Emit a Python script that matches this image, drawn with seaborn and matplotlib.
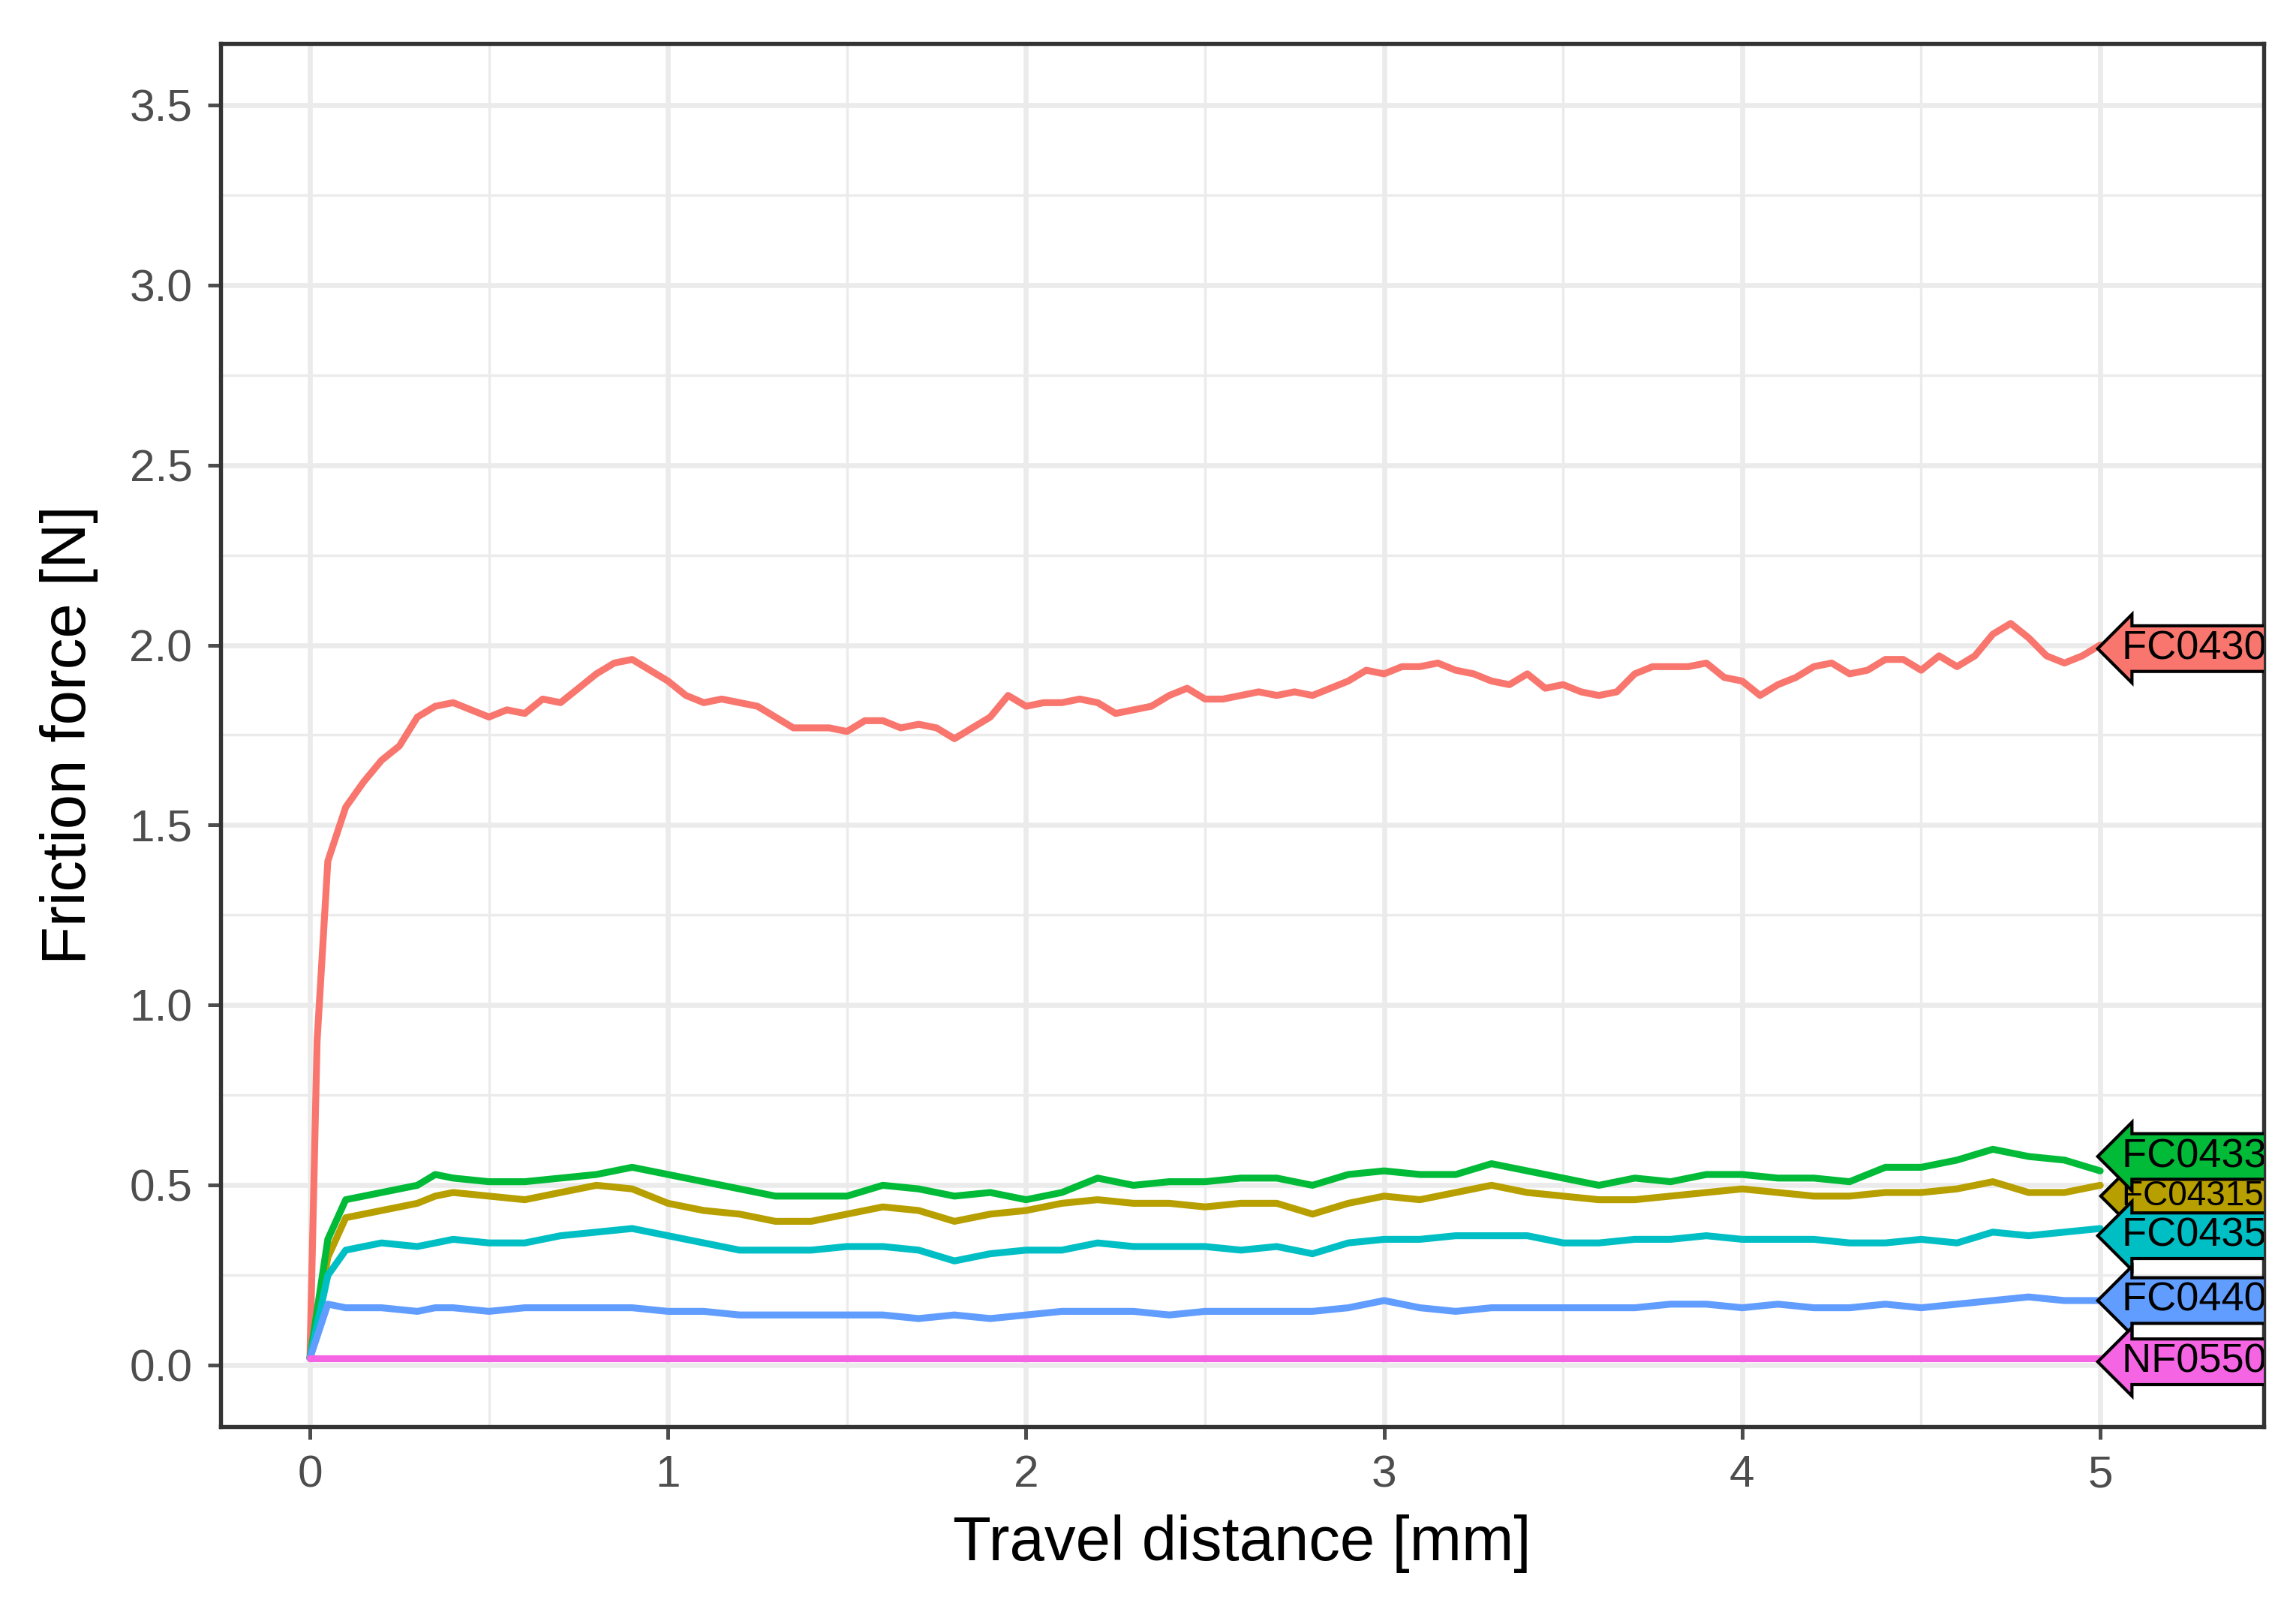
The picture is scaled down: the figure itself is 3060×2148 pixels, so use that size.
import numpy as np
import pandas as pd
import matplotlib
matplotlib.use("Agg")
import matplotlib.pyplot as plt
import seaborn as sns

samples = ["FC0430", "FC04315", "FC0433", "FC0435", "FC0440", "NF0550"]
colors = ["#F8766D", "#B79F00", "#00BA38", "#00BFC4", "#619CFF", "#F564E3"]

x_red = [0, 0.02, 0.05, 0.1, 0.15, 0.2, 0.25, 0.3, 0.35, 0.4, 0.45, 0.5, 0.55, 0.6, 0.65, 0.7, 0.75, 0.8, 0.85, 0.9,
         0.95, 1.0, 1.05, 1.1, 1.15, 1.2, 1.25, 1.3, 1.35, 1.4, 1.45, 1.5, 1.55, 1.6, 1.65, 1.7, 1.75, 1.8, 1.85, 1.9,
         1.95, 2.0, 2.05, 2.1, 2.15, 2.2, 2.25, 2.3, 2.35, 2.4, 2.45, 2.5, 2.55, 2.6, 2.65, 2.7, 2.75, 2.8, 2.85, 2.9,
         2.95, 3.0, 3.05, 3.1, 3.15, 3.2, 3.25, 3.3, 3.35, 3.4, 3.45, 3.5, 3.55, 3.6, 3.65, 3.7, 3.75, 3.8, 3.85, 3.9,
         3.95, 4.0, 4.05, 4.1, 4.15, 4.2, 4.25, 4.3, 4.35, 4.4, 4.45, 4.5, 4.55, 4.6, 4.65, 4.7, 4.75, 4.8, 4.85, 4.9,
         4.95, 5.0]
y_fc0430 = [0.02, 0.9, 1.4, 1.55, 1.62, 1.68, 1.72, 1.8, 1.83, 1.84, 1.82, 1.80, 1.82, 1.81, 1.85, 1.84, 1.88, 1.92, 1.95, 1.96,
            1.93, 1.90, 1.86, 1.84, 1.85, 1.84, 1.83, 1.80, 1.77, 1.77, 1.77, 1.76, 1.79, 1.79, 1.77, 1.78, 1.77, 1.74, 1.77, 1.80,
            1.86, 1.83, 1.84, 1.84, 1.85, 1.84, 1.81, 1.82, 1.83, 1.86, 1.88, 1.85, 1.85, 1.86, 1.87, 1.86, 1.87, 1.86, 1.88, 1.90,
            1.93, 1.92, 1.94, 1.94, 1.95, 1.93, 1.92, 1.90, 1.89, 1.92, 1.88, 1.89, 1.87, 1.86, 1.87, 1.92, 1.94, 1.94, 1.94, 1.95,
            1.91, 1.90, 1.86, 1.89, 1.91, 1.94, 1.95, 1.92, 1.93, 1.96, 1.96, 1.93, 1.97, 1.94, 1.97, 2.03, 2.06, 2.02, 1.97, 1.95,
            1.97, 2.0]

x_low = [0, 0.05, 0.1, 0.2, 0.3, 0.35, 0.4, 0.5, 0.6, 0.7, 0.8, 0.9, 1.0, 1.1, 1.2, 1.3, 1.4, 1.5, 1.6, 1.7, 1.8, 1.9,
         2.0, 2.1, 2.2, 2.3, 2.4, 2.5, 2.6, 2.7, 2.8, 2.9, 3.0, 3.1, 3.2, 3.3, 3.4, 3.5, 3.6, 3.7, 3.8, 3.9,
         4.0, 4.1, 4.2, 4.3, 4.4, 4.5, 4.6, 4.7, 4.8, 4.9, 5.0]
y_fc0433 = [0.02, 0.35, 0.46, 0.48, 0.50, 0.53, 0.52, 0.51, 0.51, 0.52, 0.53, 0.55, 0.53, 0.51, 0.49, 0.47, 0.47, 0.47, 0.50, 0.49, 0.47, 0.48,
            0.46, 0.48, 0.52, 0.50, 0.51, 0.51, 0.52, 0.52, 0.50, 0.53, 0.54, 0.53, 0.53, 0.56, 0.54, 0.52, 0.50, 0.52, 0.51, 0.53,
            0.53, 0.52, 0.52, 0.51, 0.55, 0.55, 0.57, 0.60, 0.58, 0.57, 0.54]
y_fc04315 = [0.02, 0.30, 0.41, 0.43, 0.45, 0.47, 0.48, 0.47, 0.46, 0.48, 0.50, 0.49, 0.45, 0.43, 0.42, 0.40, 0.40, 0.42, 0.44, 0.43, 0.40, 0.42,
             0.43, 0.45, 0.46, 0.45, 0.45, 0.44, 0.45, 0.45, 0.42, 0.45, 0.47, 0.46, 0.48, 0.50, 0.48, 0.47, 0.46, 0.46, 0.47, 0.48,
             0.49, 0.48, 0.47, 0.47, 0.48, 0.48, 0.49, 0.51, 0.48, 0.48, 0.50]
y_fc0435 = [0.02, 0.25, 0.32, 0.34, 0.33, 0.34, 0.35, 0.34, 0.34, 0.36, 0.37, 0.38, 0.36, 0.34, 0.32, 0.32, 0.32, 0.33, 0.33, 0.32, 0.29, 0.31,
            0.32, 0.32, 0.34, 0.33, 0.33, 0.33, 0.32, 0.33, 0.31, 0.34, 0.35, 0.35, 0.36, 0.36, 0.36, 0.34, 0.34, 0.35, 0.35, 0.36,
            0.35, 0.35, 0.35, 0.34, 0.34, 0.35, 0.34, 0.37, 0.36, 0.37, 0.38]
y_fc0440 = [0.02, 0.17, 0.16, 0.16, 0.15, 0.16, 0.16, 0.15, 0.16, 0.16, 0.16, 0.16, 0.15, 0.15, 0.14, 0.14, 0.14, 0.14, 0.14, 0.13, 0.14, 0.13,
            0.14, 0.15, 0.15, 0.15, 0.14, 0.15, 0.15, 0.15, 0.15, 0.16, 0.18, 0.16, 0.15, 0.16, 0.16, 0.16, 0.16, 0.16, 0.17, 0.17,
            0.16, 0.17, 0.16, 0.16, 0.17, 0.16, 0.17, 0.18, 0.19, 0.18, 0.18]
y_nf0550 = [0.02] * len(x_low)
label_y = [1.99, 0.47, 0.58, 0.36, 0.18, 0.01]

frames = [pd.DataFrame({"x": x_red, "y": y_fc0430, "sample": "FC0430"})]
for name, ys in zip(samples[1:], [y_fc04315, y_fc0433, y_fc0435, y_fc0440, y_nf0550]):
    frames.append(pd.DataFrame({"x": x_low, "y": ys, "sample": name}))
df = pd.concat(frames, ignore_index=True)

sns.set_theme(style="whitegrid")
plt.rcParams['font.family'] = ['Liberation Sans', 'DejaVu Sans']
fig, ax = plt.subplots(figsize=(10.2, 7.16), dpi=300)
fig.subplots_adjust(left=0.096, right=0.986, top=0.973, bottom=0.115)

sns.lineplot(data=df, x="x", y="y", hue="sample", hue_order=samples,
             palette=colors, linewidth=2.2, ax=ax, legend=False, estimator=None)

for name, c, ly in zip(samples, colors, label_y):
    fs = 11 if name == "FC04315" else 13
    ax.text(5.06, ly, name + "  ", fontsize=fs, color="black", va="center", ha="left",
            bbox=dict(boxstyle="larrow,pad=0.1", fc=c, ec="black", lw=1.0), clip_on=True)

ax.set_xlim(-0.25, 5.457)
ax.set_ylim(-0.17, 3.67)
ax.set_xticks([0, 1, 2, 3, 4, 5])
ax.set_yticks(np.arange(0, 3.51, 0.5))
ax.set_yticklabels([f"{v:.1f}" for v in np.arange(0, 3.51, 0.5)])
ax.set_xticks(np.arange(0.5, 5.5, 1), minor=True)
ax.set_yticks(np.arange(0.25, 3.6, 0.5), minor=True)
ax.grid(which="major", color="#EBEBEB", lw=1.6)
ax.grid(which="minor", color="#EBEBEB", lw=0.8)
ax.tick_params(axis="both", which="major", labelsize=14.5, colors="#4D4D4D",
               length=4, width=1.2, left=True, bottom=True, pad=5)
ax.tick_params(axis="both", which="minor", length=0)
for s in ax.spines.values():
    s.set_color("#333333"); s.set_linewidth(1.3)
ax.set_xlabel("Travel distance [mm]", fontsize=20, color="black", labelpad=6)
ax.set_ylabel("Friction force [N]", fontsize=20, color="black", labelpad=10)
fig.savefig("out.png", dpi=300)
